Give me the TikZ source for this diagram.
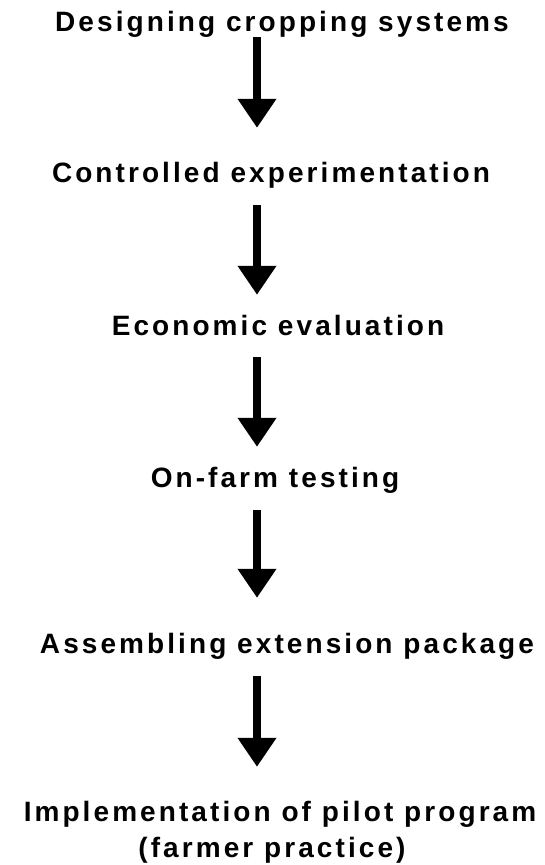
\documentclass[tikz,border=0pt]{standalone}
\usepackage{fontspec}
\setmainfont{Liberation Sans}[LetterSpace=11]
\usetikzlibrary{arrows.meta}
\begin{document}
\begin{tikzpicture}[x=1pt,y=-1pt,
  stage/.style={font=\fontsize{28}{32}\selectfont\bfseries, inner sep=0pt,
    text height=20pt, text depth=6pt, anchor=base},
  flow/.style={line width=8.5pt, -{Triangle[width=37pt,length=29pt]}}]
  \useasboundingbox (0,0) rectangle (544,865);
  % vertical line on which the arrows stand
  \coordinate (axis) at (257,0);
  % stages of the procedure
  \node[stage] (t1) at (282,31)    {Designing cropping systems};
  \node[stage] (t2) at (271,182.5) {Controlled experimentation};
  \node[stage] (t3) at (278,335)   {Economic evaluation};
  \node[stage] (t4) at (275,487)   {On-farm testing};
  \node[stage] (t5) at (287,653)   {Assembling extension package};
  \node[stage] (t6) at (280,821)   {Implementation of pilot program};
  \node[stage] (t7) at (272,857)   {(farmer practice)};
  % arrows between consecutive stages
  \draw[flow, shorten >=34.5pt]                 (t1.south -| axis) -- (t2.north -| axis);
  \draw[flow, shorten <=16.5pt, shorten >=20pt] (t2.south -| axis) -- (t3.north -| axis);
  \draw[flow, shorten <=16pt, shorten >=20pt]   (t3.south -| axis) -- (t4.north -| axis);
  \draw[flow, shorten <=17pt, shorten >=35pt]   (t4.south -| axis) -- (t5.north -| axis);
  \draw[flow, shorten <=17pt, shorten >=34pt]   (t5.south -| axis) -- (t6.north -| axis);
\end{tikzpicture}
\end{document}
